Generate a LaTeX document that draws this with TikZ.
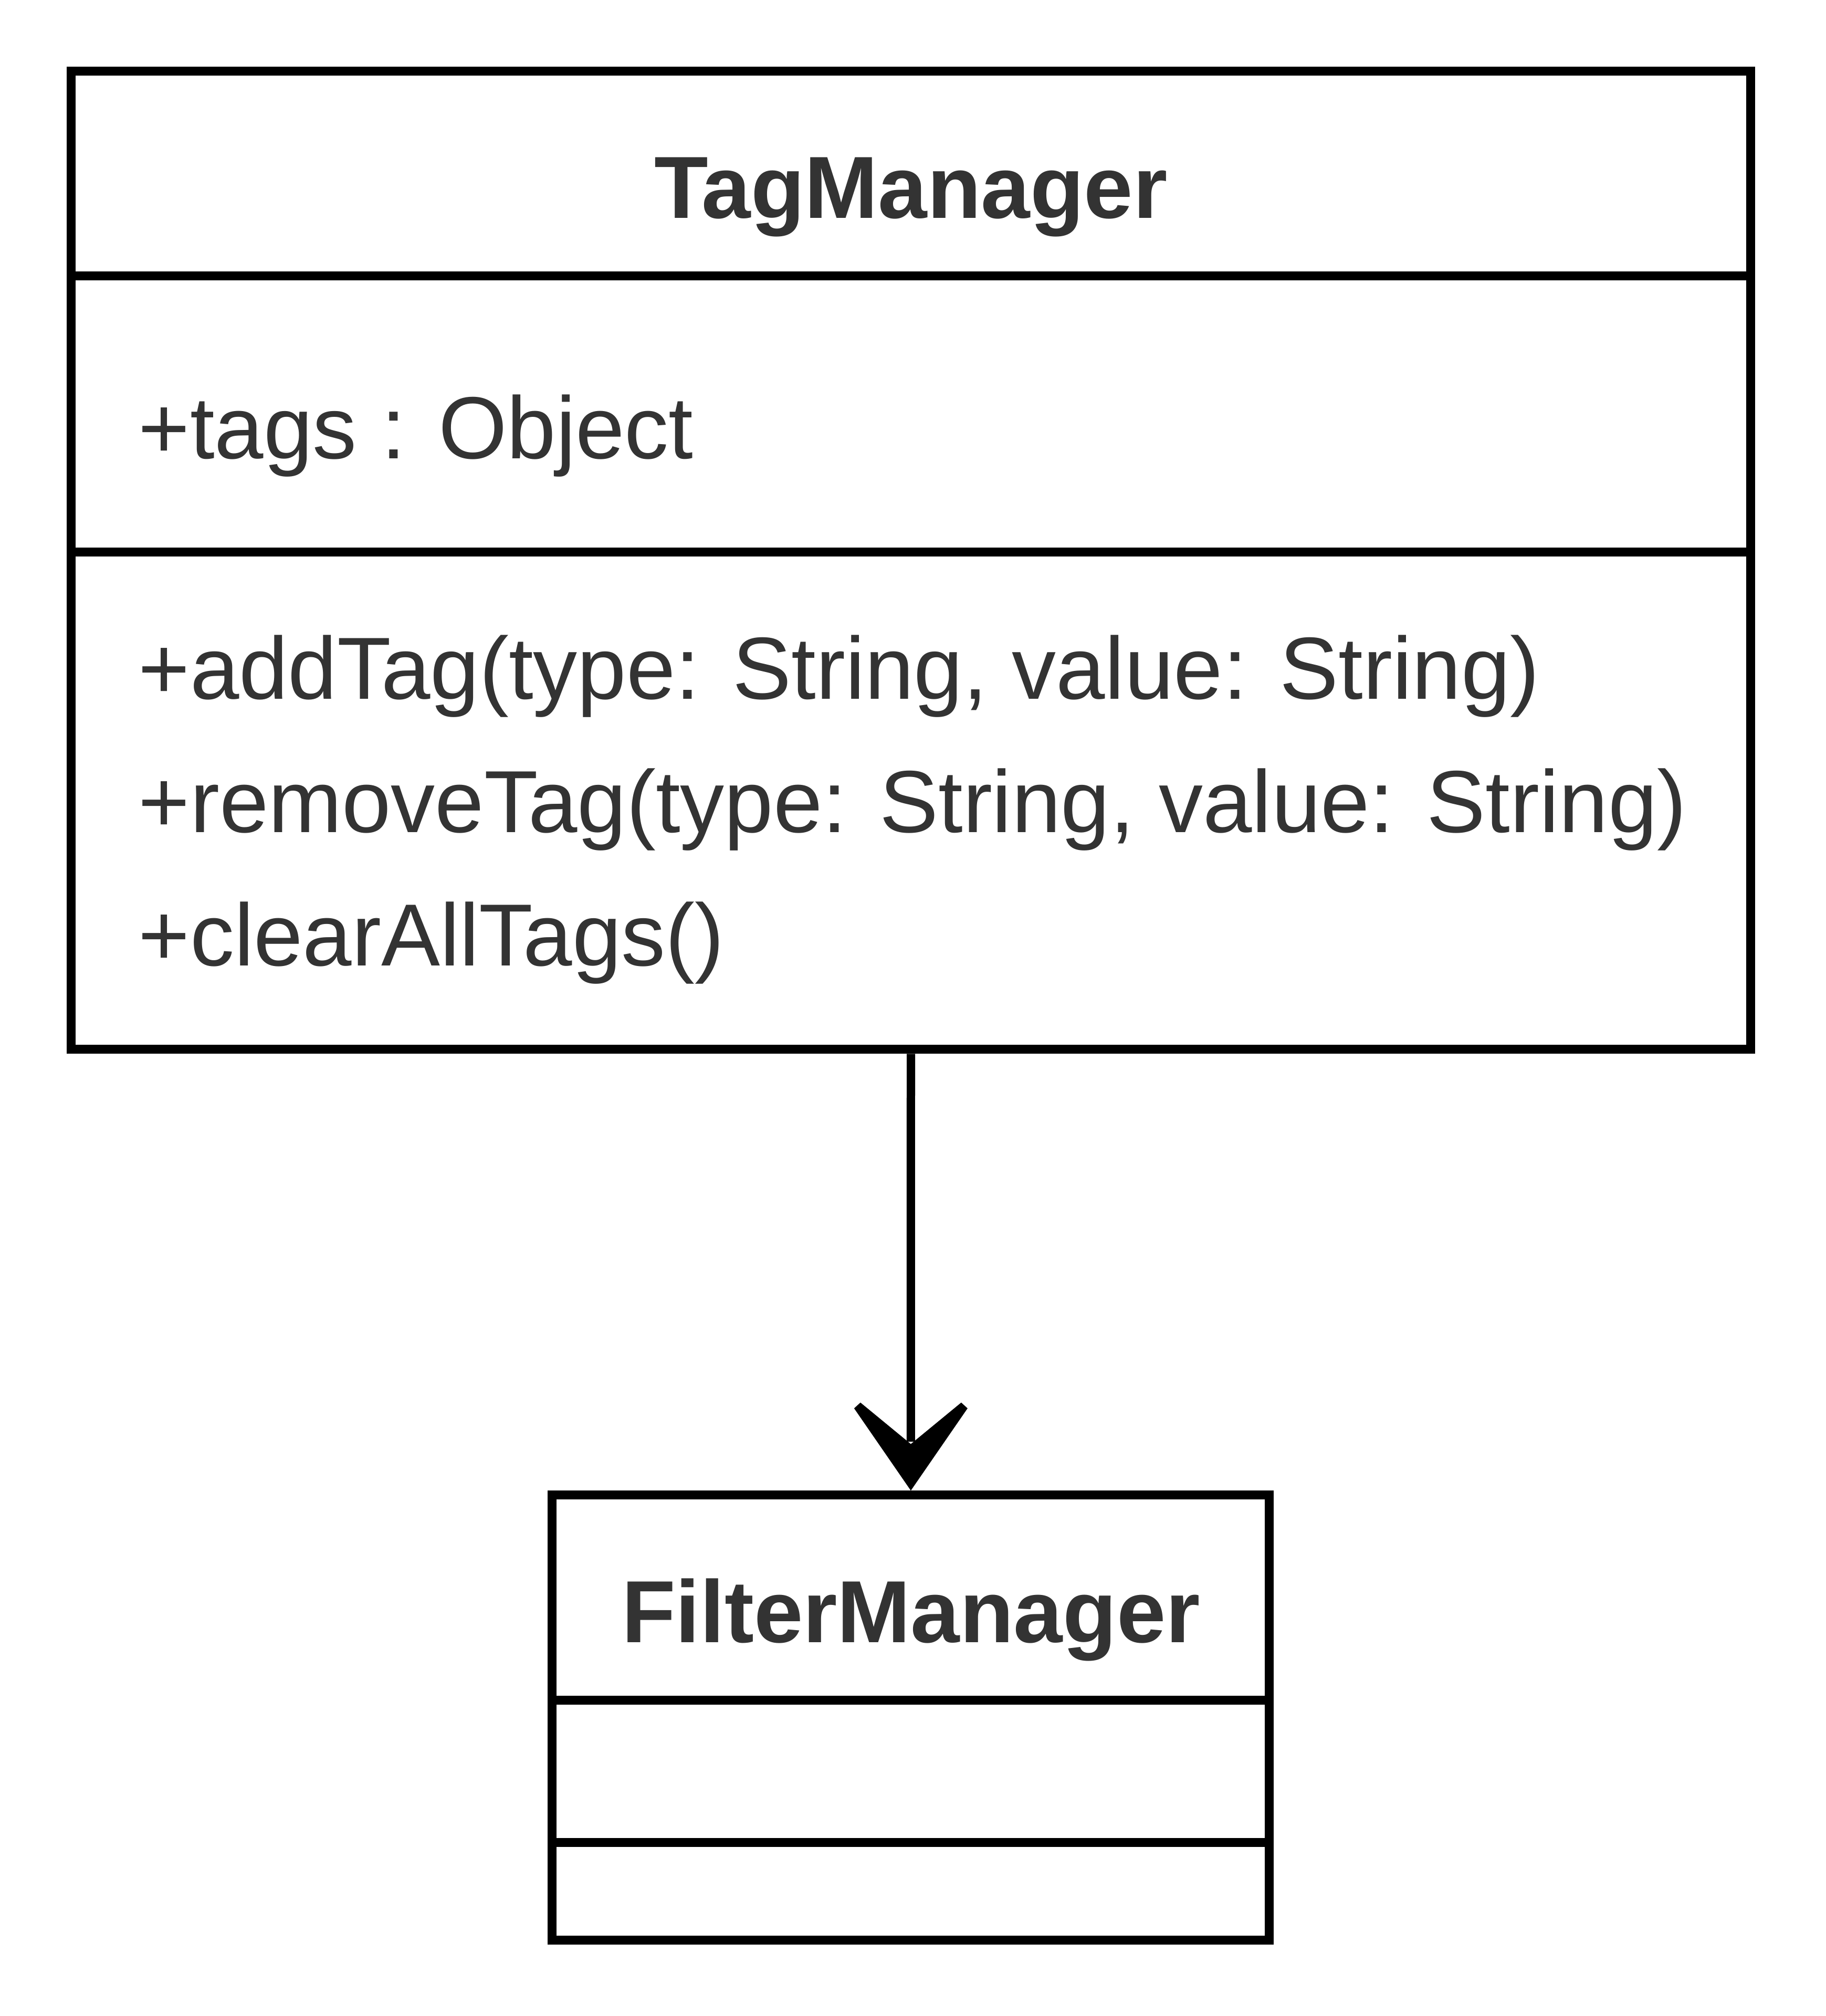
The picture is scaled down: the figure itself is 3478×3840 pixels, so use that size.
\documentclass[tikz,border=0pt]{standalone}
\usepackage{fontspec}
\setmainfont{Liberation Sans}
\usetikzlibrary{calc}
\definecolor{txt}{HTML}{333333}
\tikzset{
  classbox/.style={draw=black, line width=1.7pt, fill=white, inner sep=0pt, rectangle},
  divider/.style={draw=black, line width=1.7pt},
  conn/.style={draw=black, line width=1.6pt},
  headfill/.style={fill=black},
  member/.style={text=txt, inner sep=0pt, anchor=base west, font=\fontsize{16.8pt}{20pt}\selectfont},
  title/.style={text=txt, inner sep=0pt, anchor=base, font=\fontsize{16.8pt}{20pt}\selectfont\bfseries},
}
\begin{document}
\begin{tikzpicture}[x=0.1pt, y=-0.1pt]
\path[use as bounding box] (0,0) rectangle (3478,3840);
% TagManager class
\node[classbox, minimum width=319.9pt, minimum height=186.35pt] (tm) at (1735,1067.25) {};
\draw[divider] (tm.west |- 0,525.5) -- (tm.east |- 0,525.5);
\draw[divider] (tm.west |- 0,1051) -- (tm.east |- 0,1051);
\node[title] (tmname) at (1735,415) {TagManager};
\node[member] (tmattr) at (262,873) {+tags : Object};
\node[member] (tmm1) at (262,1331) {+addTag(type: String, value: String)};
\node[member] (tmm2) at (262,1585) {+removeTag(type: String, value: String)};
\node[member] (tmm3) at (262,1839) {+clearAllTags()};
% FilterManager class
\node[classbox, minimum width=136.63pt, minimum height=84.74pt] (fm) at (1734.85,3271.3) {};
\draw[divider] (fm.west |- 0,3238) -- (fm.east |- 0,3238);
\draw[divider] (fm.west |- 0,3509) -- (fm.east |- 0,3509);
\node[title] (fmname) at (1735,3128) {FilterManager};
% connector
\draw[conn] (tm.south) -- ($(fm.north)+(0,-93)$);
\fill[headfill, shift={(fm.north)}] (0,0) -- (-108,-156.6) -- (-96,-167.6) -- (0,-88.6) -- (96,-167.6) -- (108,-156.6) -- cycle;
\end{tikzpicture}
\end{document}
